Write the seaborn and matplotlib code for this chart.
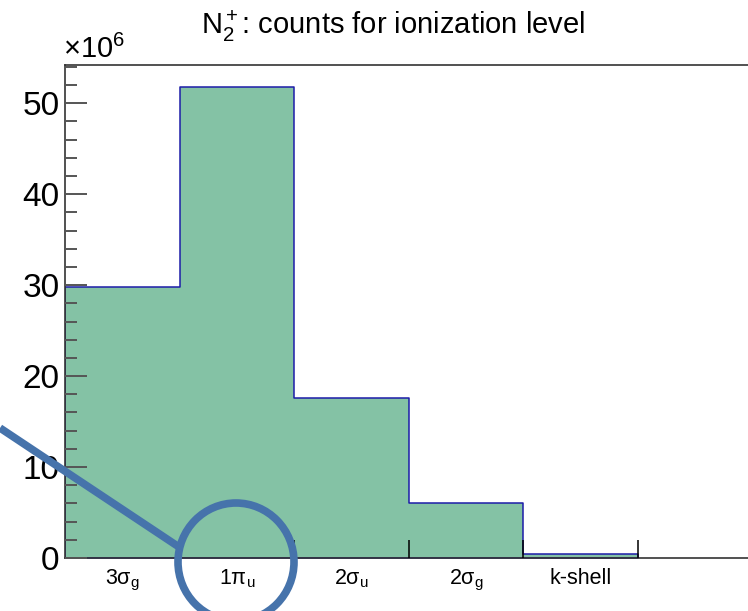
import matplotlib
matplotlib.use("Agg")
import matplotlib.pyplot as plt
from matplotlib.patches import Ellipse
from matplotlib.lines import Line2D
from matplotlib.ticker import FuncFormatter, MultipleLocator, FixedLocator
import numpy as np
import pandas as pd
import seaborn as sns

# ionization levels of N2+ and their counts
levels = ["3σ$\\mathregular{_g}$", "1π$\\mathregular{_u}$", "2σ$\\mathregular{_u}$",
          "2σ$\\mathregular{_g}$", "k-shell"]
counts = [29.8e6, 51.8e6, 17.6e6, 6.0e6, 0.46e6]

sns.set_theme(style="white")
plt.rcParams["font.family"] = ["Liberation Sans", "DejaVu Sans"]
plt.rcParams["mathtext.fontset"] = "custom"
plt.rcParams["mathtext.rm"] = "Liberation Sans"
plt.rcParams["mathtext.it"] = "Liberation Sans"
plt.rcParams["text.color"] = "black"
plt.rcParams["xtick.labelcolor"] = "black"
plt.rcParams["ytick.labelcolor"] = "black"

df = pd.DataFrame({"bin": np.arange(len(levels)) + 0.5, "counts": counts})

W, H = 748, 611
fig = plt.figure(figsize=(W / 100, H / 100), dpi=100)
x0, x1 = 65, 65 + 6 * 114.6
y_bot, y_top = 558, 65
ax = fig.add_axes([x0 / W, (H - y_bot) / H, (x1 - x0) / W, (y_bot - y_top) / H])

sns.histplot(data=df, x="bin", weights="counts", binwidth=1, binrange=(0, 5),
             element="step", fill=True, facecolor="#84c2a5", edgecolor="#1c1ca8",
             linewidth=1.1, alpha=1.0, ax=ax)

ax.set_xlim(0, 6)
ax.set_ylim(0, 54.2e6)
ax.set_xlabel("")
ax.set_ylabel("")

# y axis: millions, major every 10, minor every 2, ticks inside
ax.yaxis.set_major_locator(MultipleLocator(10e6))
ax.yaxis.set_minor_locator(MultipleLocator(2e6))
ax.yaxis.set_major_formatter(FuncFormatter(lambda v, p: f"{v / 1e6:.0f}"))
ax.tick_params(axis="y", which="major", direction="in", length=16, width=1.4,
               color="#555555", labelcolor="black", labelsize=24, pad=4,
               left=True, right=False)
ax.tick_params(axis="y", which="minor", direction="in", length=8.5, width=1.4,
               color="#555555", left=True, right=False)

# x axis: ticks at bin edges, labels centred in bins
ax.xaxis.set_major_locator(FixedLocator([1, 2, 3, 4, 5]))
ax.xaxis.set_major_formatter(FuncFormatter(lambda v, p: ""))
ax.xaxis.set_minor_locator(FixedLocator(df["bin"].to_list()))
ax.set_xticklabels(levels, minor=True)
ax.tick_params(axis="x", which="major", direction="in", length=13, width=1.1,
               color="black", bottom=True, top=False)
ax.tick_params(axis="x", which="minor", length=0, labelsize=15.5, pad=7,
               labelcolor="black")

for side in ["left", "bottom", "top", "right"]:
    ax.spines[side].set_color("#333333")
    ax.spines[side].set_linewidth(1.2)
ax.set_axisbelow(False)

fig.text(393 / W, 1 - 34 / H, "N$_2^+$: counts for ionization level",
         ha="center", va="baseline", fontsize=21, color="black")
fig.text(63 / W, 1 - 58 / H, "×10$^6$", ha="left", va="baseline", fontsize=21,
         color="black")

# callout: line leading to a ring around the 1π_u label
blue = "#4673ab"
fig.add_artist(Line2D([0, 179 / W], [1 - 428 / H, 1 - 547 / H], transform=fig.transFigure,
                      color=blue, linewidth=5.5, solid_capstyle="butt"))
fig.add_artist(Ellipse((236 / W, 1 - 562 / H), 116 / W, 118 / H, transform=fig.transFigure,
                       fill=False, edgecolor=blue, linewidth=5.5))

fig.savefig("out.png", dpi=100)
